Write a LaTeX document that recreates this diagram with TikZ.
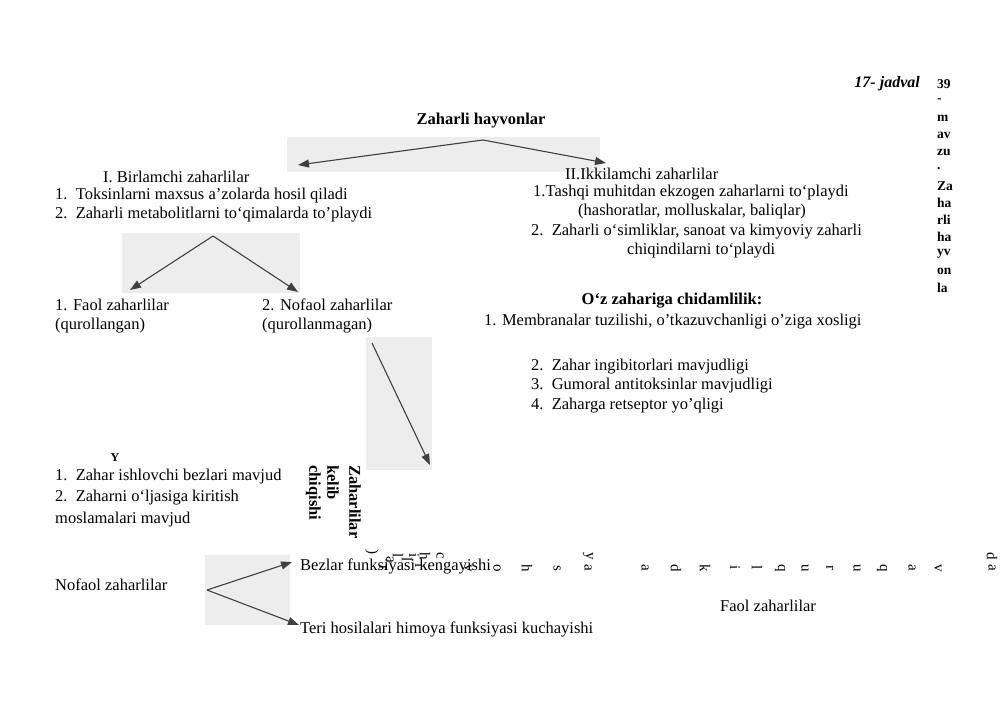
\documentclass[tikz,border=0pt]{standalone}
\usepackage{fontspec}
\setmainfont{Liberation Serif}
\usetikzlibrary{arrows.meta}
\begin{document}
\begin{tikzpicture}[x=1pt,y=-1pt,
  t/.style={anchor=west,inner sep=0pt,font=\fontsize{16.5}{18}\selectfont},
  tb/.style={inner sep=0pt,font=\bfseries\fontsize{16.5}{18}\selectfont},
  col/.style={anchor=west,inner sep=0pt,font=\bfseries\fontsize{13.5}{14}\selectfont},
  sc/.style={inner sep=0pt,rotate=-90,font=\fontsize{15}{16}\selectfont},
  scan/.style={fill=gray!14,draw=none},
  arr/.style={draw=black!75,line width=1.1pt,-{Triangle[length=11pt,width=8pt]}}]
\useasboundingbox (0,0) rectangle (1000,705);
% scanned backgrounds
\fill[scan] (287,137) rectangle (600,172);
\fill[scan] (122,233) rectangle (300,293);
\fill[scan] (366,337) rectangle (432,470);
\fill[scan] (205,555) rectangle (290,625);
% header
\node[inner sep=0pt,anchor=east,font=\bfseries\itshape\fontsize{16}{18}\selectfont] (jad) at (920,84) {17- jadval};
\foreach \s [count=\i] in {39,-,m,av,zu,.,Za,ha,rli,ha,yv,on,la}
  \node[col] (c\i) at (937,{84+(\i-1)*17}) {\s};
\node[tb] (root) at (481,121) {Zaharli hayvonlar};
\coordinate (a1) at (298,165); \coordinate (a2) at (606,163);
\draw[arr] (483,140) -- (a1); \draw[arr] (483,140) -- (a2);
\node[t] (b1) at (103,177) {I. Birlamchi zaharlilar};
\node[t] (b2) at (55,196) {1.\ \ Toksinlarni maxsus a’zolarda hosil qiladi};
\node[t] (b3) at (55,215) {2.\ \ Zaharli metabolitlarni to‘qimalarda to'playdi};
\node[t] (i1) at (565,174) {II.Ikkilamchi zaharlilar};
\node[t] (i2) at (533,193) {1.Tashqi muhitdan ekzogen zaharlarni to‘playdi};
\node[t] (i3) at (578,212) {(hashoratlar, molluskalar, baliqlar)};
\node[t] (i4) at (531,232) {2.\ \ Zaharli o‘simliklar, sanoat va kimyoviy zaharli};
\node[t] (i5) at (627,251) {chiqindilarni to‘playdi};
\coordinate (f1) at (130,290); \coordinate (f2) at (298,292);
\draw[arr] (213,236) -- (f1); \draw[arr] (213,236) -- (f2);
\node[t] (fa) at (55,305) {1. Faol zaharlilar};
\node[t] (fb) at (55,326) {(qurollangan)};
\node[t] (na) at (262,305) {2. Nofaol zaharlilar};
\node[t] (nb) at (262,326) {(qurollanmagan)};
\node[tb] (oz) at (672,301) {O‘z zahariga chidamlilik:};
\node[t] (o1) at (484,322) {1. Membranalar tuzilishi, o'tkazuvchanligi o'ziga xosligi};
\node[t] (o2) at (531,367) {2.\ \ Zahar ingibitorlari mavjudligi};
\node[t] (o3) at (531,386) {3.\ \ Gumoral antitoksinlar mavjudligi};
\node[t] (o4) at (531,406) {4.\ \ Zaharga retseptor yo'qligi};
\coordinate (d1) at (430,465);
\draw[arr] (372,343) -- (d1);
\node[inner sep=0pt,font=\bfseries\fontsize{12}{12}\selectfont] (y) at (115,458) {Y};
\node[t] (z1) at (55,477) {1.\ \ Zahar ishlovchi bezlari mavjud};
\node[t] (z2) at (55,498) {2.\ \ Zaharni o‘ljasiga kiritish};
\node[t] (z3) at (55,520) {moslamalari mavjud};
\node[tb,rotate=-90,anchor=north west] (r1) at (361,465) {Zaharlilar};
\node[tb,rotate=-90,anchor=north west] (r2) at (339,465) {kelib};
\node[tb,rotate=-90,anchor=north west] (r3) at (321,465) {chiqishi};
% scattered rotated letters
\foreach \ch/\x/\y in {)/372/552,r/383/568,a/390/560,l/398/556,l/407/560,i/414/556,i/420/566,h/425/556,c/440/556,v/468/568,o/497/568,h/527/568,s/557/568,y/588/556,a/588/568,a/645/568,d/676/568,k/705/568,i/735/568,l/757/568,q/780/568,u/805/568,r/830/568,u/857/568,q/882/568,a/912/568,v/938/568,d/992/556,a/992/568}
  \node[sc] at (\x,\y) {\ch};
\coordinate (e1) at (292,562); \coordinate (e2) at (299,625);
\draw[arr] (207,590) -- (e1); \draw[arr] (207,590) -- (e2);
\node[t] (bz) at (300,566) {Bezlar funksiyasi kengayishi};
\node[t] (nz) at (55,585) {Nofaol zaharlilar};
\node[t] (fz) at (720,606) {Faol zaharlilar};
\node[t] (th) at (300,629) {Teri hosilalari himoya funksiyasi kuchayishi};
\end{tikzpicture}
\end{document}
